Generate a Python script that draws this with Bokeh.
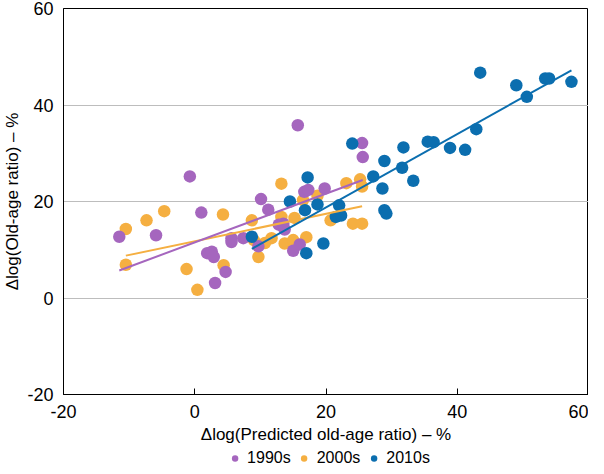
import numpy as np
from bokeh.plotting import figure
from bokeh.layouts import column
from bokeh.models import Range1d, FixedTicker, Legend, LegendItem
from bokeh.embed import file_html
from bokeh.resources import INLINE

decades = ["1990s", "2000s", "2010s"]
colors = ["#A566BE", "#F5AF41", "#0B6EAF"]

x_1990s = [-11.5, -5.9, -0.75, 1.0, 1.9, 2.6, 2.9, 3.1, 4.7, 5.6, 5.6, 7.4, 9.7,
           10.1, 11.2, 12.8, 13.5, 13.7, 15.0, 16.0, 15.7, 16.7, 17.3, 19.8, 25.5, 25.6]
y_1990s = [12.7, 13.0, 25.2, 17.7, 9.3, 9.6, 8.5, 3.1, 5.4, 12.4, 11.6, 12.4, 10.7,
           20.5, 18.3, 15.2, 15.4, 14.2, 9.8, 11.1, 35.8, 22.0, 22.4, 22.7, 32.1, 29.2]

x_2000s = [-10.5, -10.5, -7.35, -4.65, -1.25, 0.4, 4.3, 4.4, 8.7, 9.0, 9.7, 10.7, 11.7,
           13.2, 13.2, 13.7, 15.0, 15.2, 16.5, 17.0, 18.7, 20.7, 23.1, 24.1, 25.5, 25.2, 25.5]
y_2000s = [14.3, 6.9, 16.1, 18.0, 6.0, 1.7, 17.3, 6.8, 16.1, 12.0, 8.5, 11.4, 12.4,
           23.7, 16.8, 11.3, 12.0, 16.6, 20.3, 12.6, 21.2, 16.1, 23.8, 15.4, 15.4, 24.6, 23.1]

x_2010s = [8.7, 14.5, 17.2, 16.8, 18.7, 19.6, 17.0, 22.0, 21.5, 22.3, 24.0, 27.2, 28.6,
           28.9, 28.9, 29.2, 31.6, 31.8, 33.3, 35.5, 36.4, 38.9, 41.2, 42.9, 43.5, 49.0,
           50.6, 53.4, 54.0, 57.4]
y_2010s = [12.7, 20.0, 25.0, 18.2, 19.4, 11.3, 9.3, 19.2, 16.8, 17.1, 32.0, 25.2, 22.7,
           28.4, 18.2, 17.5, 27.0, 31.2, 24.3, 32.4, 32.3, 31.1, 30.7, 35.0, 46.7, 44.1,
           41.7, 45.5, 45.5, 44.8]

x_ticks = [-20, 0, 20, 40, 60]
y_ticks = [-20, 0, 20, 40, 60]
tick_labels = {-20: "-20", 0: "0", 20: "20", 40: "40", 60: "60"}

FONT = "Liberation Sans"

p = figure(width=588, height=446, output_backend="svg", toolbar_location=None,
           x_range=Range1d(-20, 60), y_range=Range1d(-20, 60),
           min_border_top=8, min_border_right=0, min_border_left=0, min_border_bottom=0)

p.outline_line_color = "black"
p.outline_line_width = 1
p.outline_line_alpha = 1
p.xgrid.visible = False
p.ygrid.ticker = FixedTicker(ticks=y_ticks)
p.ygrid.grid_line_color = "#BDBDBD"
p.ygrid.grid_line_width = 1

p.xaxis.ticker = FixedTicker(ticks=x_ticks)
p.yaxis.ticker = FixedTicker(ticks=y_ticks)
for ax in (p.xaxis, p.yaxis):
    ax.axis_line_color = "black"
    ax.major_label_overrides = tick_labels
    ax.major_label_text_font = FONT
    ax.major_label_text_font_size = "18px"
    ax.major_label_text_color = "black"
    ax.axis_label_text_font = FONT
    ax.axis_label_text_font_size = "17px"
    ax.axis_label_text_font_style = "normal"
    ax.axis_label_text_color = "black"
    ax.minor_tick_line_color = None

p.xaxis.major_tick_in = 6
p.xaxis.major_tick_out = 0
p.xaxis.major_tick_line_color = "black"
p.yaxis.major_tick_line_color = None
p.xaxis.major_label_standoff = 10
p.yaxis.major_label_standoff = 4
p.xaxis.axis_label_standoff = 4
p.yaxis.axis_label_standoff = 2
p.xaxis.axis_label = "Δlog(Predicted old-age ratio) – %"
p.yaxis.axis_label = "Δlog(Old-age ratio) – %"

series = [(x_1990s, y_1990s), (x_2000s, y_2000s), (x_2010s, y_2010s)]
draw_order = [1, 0, 2]
for i in draw_order:
    xs, ys = series[i]
    p.scatter(xs, ys, size=12.5, marker="circle",
              fill_color=colors[i], line_color=colors[i], line_width=0)

for i in draw_order:
    xs, ys = series[i]
    xs_a = np.array(xs)
    k, b = np.polyfit(xs_a, np.array(ys), 1)
    xx = np.array([xs_a.min(), xs_a.max()])
    p.line(xx, k * xx + b, line_color=colors[i], line_width=2)

# legend strip below the chart (its glyphs reuse one data point each, outside its 0-1 view)
lg = figure(width=588, height=24, output_backend="svg", toolbar_location=None,
            x_range=Range1d(0, 1), y_range=Range1d(0, 1),
            x_axis_location=None, y_axis_location=None,
            min_border_top=0, min_border_bottom=0, min_border_left=52, min_border_right=0)
lg.outline_line_color = None
lg.xgrid.visible = False
lg.ygrid.visible = False
leg_renderers = []
for i in range(3):
    xs, ys = series[i]
    leg_renderers.append(lg.scatter(x=[xs[0]], y=[ys[0]], size=12.5, marker="circle",
                                    fill_color=colors[i], line_color=colors[i], line_width=0))
legend = Legend(items=[LegendItem(label=decades[i], renderers=[leg_renderers[i]]) for i in range(3)],
                orientation="horizontal", location="center")
legend.label_text_font = FONT
legend.label_text_font_size = "16px"
legend.label_text_color = "black"
legend.border_line_color = None
legend.background_fill_alpha = 0
legend.glyph_width = 26
legend.glyph_height = 16
legend.label_standoff = 0
legend.spacing = 0
legend.padding = 0
legend.margin = 0
legend.label_height = 16
lg.add_layout(legend, "center")

layout = column(p, lg, spacing=0)
open("out.html", "w").write(file_html(layout, INLINE))
